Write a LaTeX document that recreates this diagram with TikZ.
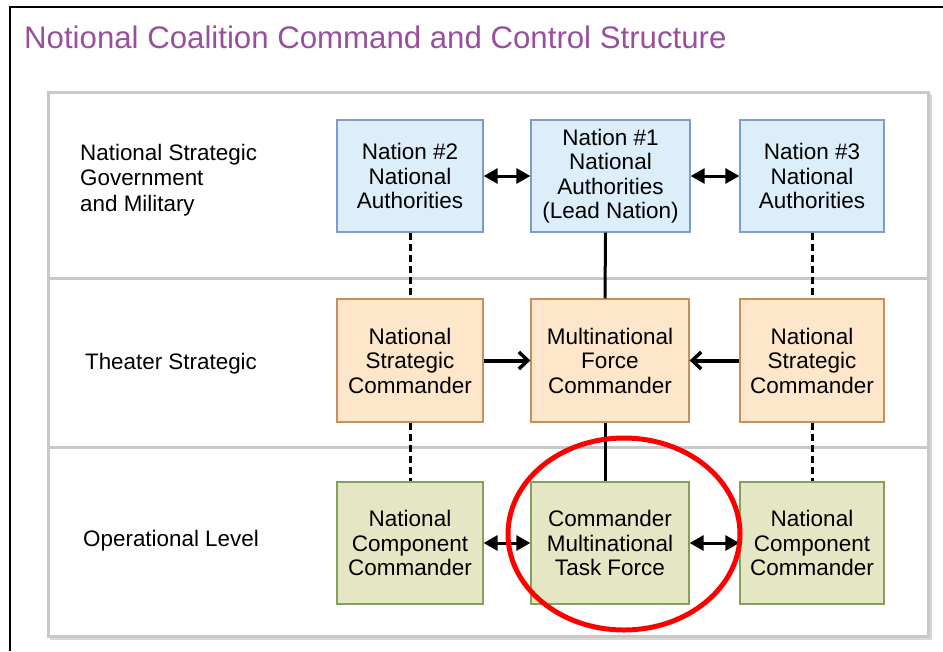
\documentclass[tikz,border=0pt]{standalone}
\usepackage{fontspec}
\setmainfont{Liberation Sans}
\usetikzlibrary{arrows.meta}
\definecolor{titlepurple}{HTML}{9A4F9E}
\definecolor{panelgray}{HTML}{C8C8C8}
\definecolor{bluefill}{HTML}{DCEEFA}
\definecolor{blueline}{HTML}{7D9CCB}
\definecolor{orangefill}{HTML}{FDE6C9}
\definecolor{orangeline}{HTML}{C4905E}
\definecolor{greenfill}{HTML}{E4E6C4}
\definecolor{greenline}{HTML}{86A05C}
\tikzset{
  box/.style={draw, line width=1.3pt, align=center, inner sep=0pt,
    font=\fontsize{22.5}{24.5}\selectfont, text=black},
  bluebox/.style={box, fill=bluefill, draw=blueline},
  orangebox/.style={box, fill=orangefill, draw=orangeline},
  greenbox/.style={box, fill=greenfill, draw=greenline},
  rowlabel/.style={align=left, inner sep=0pt, font=\fontsize{22.4}{25.5}\selectfont, text=black},
  dblfilled/.style={line width=3pt, {Triangle[length=14pt,width=15pt]}-{Triangle[length=14pt,width=15pt]}},
  openarrow/.style={line width=4pt, -{Straight Barb[length=9pt,width=17pt,line width=3.5pt]}},
  dashlink/.style={line width=3pt, dash pattern=on 7pt off 4pt},
  solidlink/.style={line width=3pt},
}
\begin{document}
\begin{tikzpicture}[x=1pt,y=-1pt]
\useasboundingbox (0,0) rectangle (943,651);
% frame
\draw[line width=2.5pt] (10,651) -- (10,7) -- (943,7);
% title
\node[anchor=base west, inner sep=0pt, text=titlepurple, font=\fontsize{31.2}{34}\selectfont] (title) at (24,48) {Notional Coalition Command and Control Structure};
% panel
\draw[panelgray!70, line width=2pt] (51,95) rectangle (931,639);
\draw[panelgray, line width=3pt, fill=white] (48,92) rectangle (928,636);
\draw[panelgray, line width=3pt] (48,278) -- (928,278);
\draw[panelgray, line width=3pt] (48,447) -- (928,447);
% row labels
\node[rowlabel, anchor=west] (l1) at (80,180) {National Strategic\\Government\\and Military};
\node[rowlabel] (l2) at (171,364) {Theater Strategic};
\node[rowlabel] (l3) at (171,541) {Operational Level};
% top row
\node[bluebox, minimum width=146pt, minimum height=112pt] (n2) at (410,176) {Nation \#2\\National\\Authorities};
\node[bluebox, minimum width=159pt, minimum height=112pt] (n1) at (610.5,176) {Nation \#1\\National\\Authorities\\(Lead Nation)};
\node[bluebox, minimum width=144pt, minimum height=112pt] (n3) at (812,176) {Nation \#3\\National\\Authorities};
% middle row
\node[orangebox, minimum width=146pt, minimum height=123pt] (s2) at (410,360.5) {National\\Strategic\\Commander};
\node[orangebox, minimum width=158pt, minimum height=123pt] (mf) at (610,360.5) {Multinational\\Force\\Commander};
\node[orangebox, minimum width=144pt, minimum height=123pt] (s3) at (812,360.5) {National\\Strategic\\Commander};
% bottom row
\node[greenbox, minimum width=146pt, minimum height=122pt] (c2) at (410,543) {National\\Component\\Commander};
\node[greenbox, minimum width=158pt, minimum height=122pt] (ct) at (610,543) {Commander\\Multinational\\Task Force};
\node[greenbox, minimum width=144pt, minimum height=122pt] (c3) at (812,543) {National\\Component\\Commander};
% connectors
\draw[dblfilled] (n2.east) -- (n1.west);
\draw[dblfilled] (n1.east) -- (n3.west);
\draw[openarrow] (s2.east) -- (mf.west);
\draw[openarrow] (s3.west) -- (mf.east);
\draw[dblfilled] (c2.east) -- (ct.west);
\draw[dblfilled] (ct.east) -- (c3.west);
\draw[solidlink] ([xshift=-5pt]n1.south) -- ([xshift=-5pt]mf.north);
\draw[solidlink] ([xshift=-5pt]mf.south) -- ([xshift=-5pt]ct.north);
\draw[dashlink] (n2.south) -- (s2.north);
\draw[dashlink] (s2.south) -- (c2.north);
\draw[dashlink] (n3.south) -- (s3.north);
\draw[dashlink] (s3.south) -- (c3.north);
% highlight
\draw[red, line width=5pt] (624,534) ellipse [x radius=116, y radius=96];
\end{tikzpicture}
\end{document}
